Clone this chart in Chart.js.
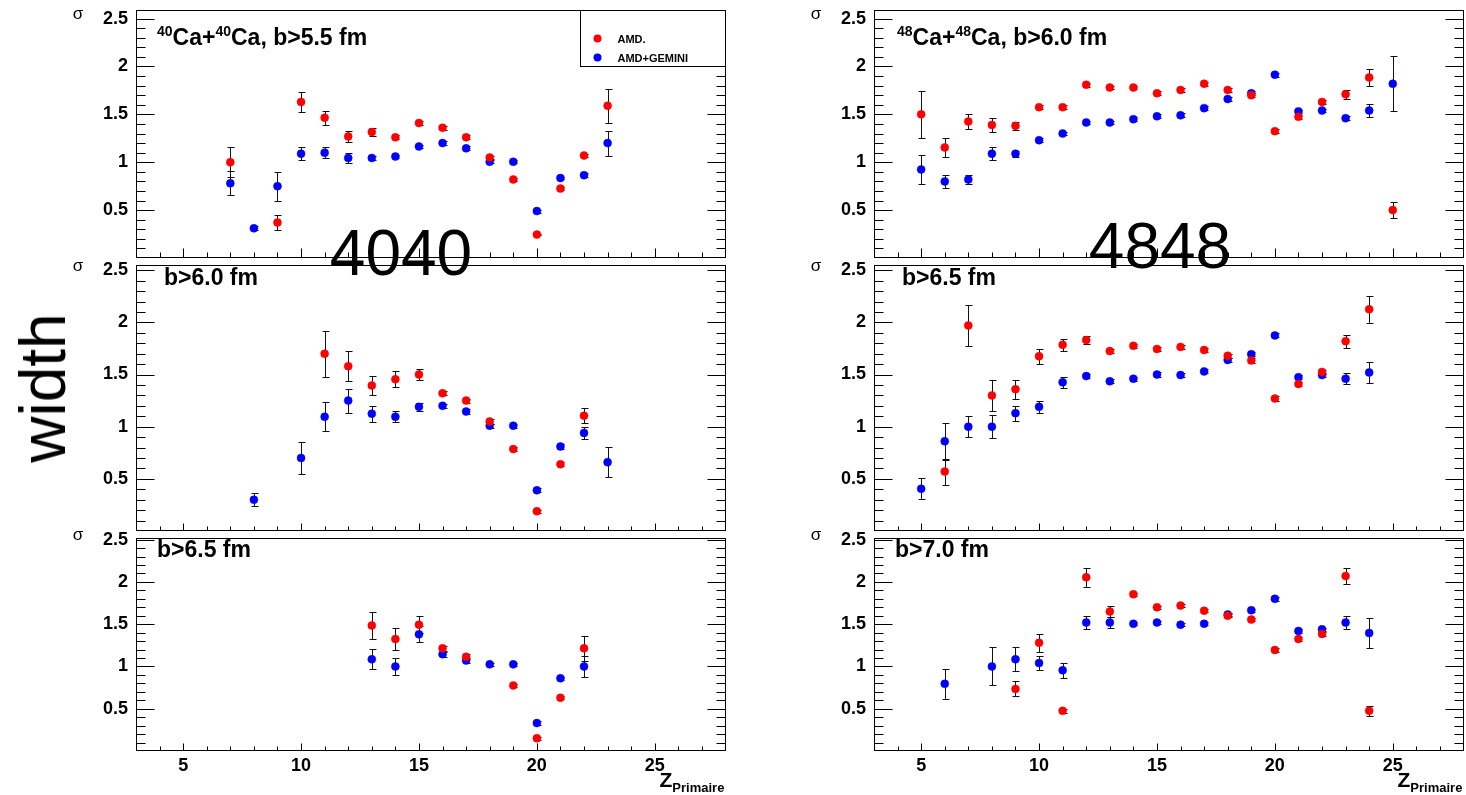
<!DOCTYPE html>
<html><head><meta charset="utf-8">
<script src="https://cdn.jsdelivr.net/npm/chart.js@4.4.1/dist/chart.umd.min.js"></script>
<style>
html,body{margin:0;padding:0;background:#fff;width:1466px;height:795px;overflow:hidden;position:relative;font-family:"Liberation Sans",Arial,sans-serif;}
.panel{position:absolute;}
.big{position:absolute;font-family:"Liberation Sans",Arial,sans-serif;color:#000;white-space:nowrap;z-index:5;line-height:1;font-weight:normal;}
</style></head><body>
<div class="big" style="left:43px;top:388px;font-size:64px;transform:translate(-50%,-50%) rotate(-90deg);">width</div>
<div class="big" style="left:401px;top:221px;font-size:64px;transform:translateX(-50%);">4040</div>
<div class="big" style="left:1160px;top:214px;font-size:64px;transform:translateX(-50%);">4848</div>
<script>
// ---------- axis ranges & tick labels ----------
const zMin = 3, zMax = 28;
const xTickValues = [5, 10, 15, 20, 25];
const yTickValues = [0.5, 1, 1.5, 2, 2.5];
const seriesNames = ['AMD.', 'AMD+GEMINI'];

// ---------- 40Ca+40Ca, b>5.5 fm ----------
const ca40_b55_amdZ   = [7, 9, 10, 11, 12, 13, 14, 15, 16, 17, 18, 19, 20, 21, 22, 23];
const ca40_b55_amdS   = [1.00, 0.37, 1.63, 1.465, 1.27, 1.315, 1.26, 1.41, 1.36, 1.26, 1.05, 0.82, 0.245, 0.725, 1.07, 1.59];
const ca40_b55_amdE   = [0.155, 0.075, 0.105, 0.075, 0.06, 0.04, 0.02, 0.02, 0.02, 0.02, 0.02, 0.015, 0.01, 0.015, 0.02, 0.175];
const ca40_b55_gemZ   = [7, 8, 9, 10, 11, 12, 13, 14, 15, 16, 17, 18, 19, 20, 21, 22, 23];
const ca40_b55_gemS   = [0.78, 0.31, 0.75, 1.09, 1.10, 1.045, 1.045, 1.06, 1.165, 1.20, 1.145, 1.005, 1.005, 0.49, 0.835, 0.865, 1.20];
const ca40_b55_gemE   = [0.125, 0.02, 0.15, 0.07, 0.06, 0.055, 0.02, 0.02, 0.02, 0.02, 0.02, 0.015, 0.015, 0.015, 0.015, 0.02, 0.13];

// ---------- 48Ca+48Ca, b>6.0 fm ----------
const ca48_b60_amdZ   = [5, 6, 7, 8, 9, 10, 11, 12, 13, 14, 15, 16, 17, 18, 19, 20, 21, 22, 23, 24, 25];
const ca48_b60_amdS   = [1.50, 1.155, 1.425, 1.39, 1.38, 1.575, 1.575, 1.81, 1.78, 1.78, 1.72, 1.755, 1.82, 1.755, 1.70, 1.325, 1.475, 1.63, 1.71, 1.885, 0.50];
const ca48_b60_amdE   = [0.245, 0.095, 0.08, 0.073, 0.04, 0.02, 0.02, 0.02, 0.02, 0.02, 0.02, 0.02, 0.02, 0.02, 0.02, 0.02, 0.02, 0.02, 0.045, 0.087, 0.08];
const ca48_b60_gemZ   = [5, 6, 7, 8, 9, 10, 11, 12, 13, 14, 15, 16, 17, 18, 19, 20, 21, 22, 23, 24, 25];
const ca48_b60_gemS   = [0.925, 0.80, 0.82, 1.09, 1.09, 1.23, 1.30, 1.415, 1.415, 1.45, 1.48, 1.49, 1.565, 1.66, 1.72, 1.915, 1.53, 1.54, 1.46, 1.54, 1.82];
const ca48_b60_gemE   = [0.15, 0.07, 0.05, 0.065, 0.03, 0.02, 0.02, 0.02, 0.02, 0.02, 0.02, 0.02, 0.02, 0.02, 0.02, 0.02, 0.02, 0.02, 0.02, 0.07, 0.29];

// ---------- 40Ca+40Ca, b>6.0 fm ----------
const ca40_b60_amdZ   = [11, 12, 13, 14, 15, 16, 17, 18, 19, 20, 21, 22];
const ca40_b60_amdS   = [1.70, 1.58, 1.395, 1.455, 1.50, 1.32, 1.25, 1.05, 0.785, 0.19, 0.64, 1.105];
const ca40_b60_amdE   = [0.22, 0.145, 0.09, 0.075, 0.055, 0.02, 0.02, 0.02, 0.02, 0.015, 0.02, 0.072];
const ca40_b60_gemZ   = [8, 10, 11, 12, 13, 14, 15, 16, 17, 18, 19, 20, 21, 22, 23];
const ca40_b60_gemS   = [0.30, 0.70, 1.095, 1.25, 1.125, 1.095, 1.19, 1.20, 1.145, 1.01, 1.01, 0.39, 0.81, 0.94, 0.66];
const ca40_b60_gemE   = [0.06, 0.155, 0.14, 0.115, 0.077, 0.053, 0.035, 0.02, 0.02, 0.02, 0.02, 0.02, 0.02, 0.055, 0.145];

// ---------- 48Ca+48Ca, b>6.5 fm ----------
const ca48_b65_amdZ   = [6, 7, 8, 9, 10, 11, 12, 13, 14, 15, 16, 17, 18, 19, 20, 21, 22, 23, 24];
const ca48_b65_amdS   = [0.57, 1.97, 1.30, 1.36, 1.675, 1.785, 1.83, 1.725, 1.775, 1.745, 1.765, 1.735, 1.68, 1.635, 1.27, 1.41, 1.525, 1.82, 2.125];
const ca48_b65_amdE   = [0.125, 0.2, 0.145, 0.09, 0.073, 0.06, 0.04, 0.02, 0.02, 0.02, 0.02, 0.02, 0.02, 0.02, 0.02, 0.02, 0.02, 0.063, 0.13];
const ca48_b65_gemZ   = [5, 6, 7, 8, 9, 10, 11, 12, 13, 14, 15, 16, 17, 18, 19, 20, 21, 22, 23, 24];
const ca48_b65_gemS   = [0.405, 0.86, 1.0, 1.0, 1.13, 1.19, 1.425, 1.485, 1.435, 1.46, 1.50, 1.495, 1.53, 1.64, 1.695, 1.875, 1.475, 1.495, 1.46, 1.52];
const ca48_b65_gemE   = [0.1, 0.18, 0.1, 0.11, 0.072, 0.055, 0.05, 0.02, 0.02, 0.02, 0.02, 0.02, 0.02, 0.02, 0.02, 0.02, 0.02, 0.02, 0.05, 0.097];

// ---------- 40Ca+40Ca, b>6.5 fm ----------
const ca40_b65_amdZ   = [13, 14, 15, 16, 17, 19, 20, 21, 22];
const ca40_b65_amdS   = [1.485, 1.325, 1.495, 1.215, 1.115, 0.775, 0.15, 0.63, 1.215];
const ca40_b65_amdE   = [0.16, 0.13, 0.1, 0.03, 0.03, 0.02, 0.02, 0.02, 0.15];
const ca40_b65_gemZ   = [13, 14, 15, 16, 17, 18, 19, 20, 21, 22];
const ca40_b65_gemS   = [1.085, 1.0, 1.38, 1.145, 1.07, 1.025, 1.025, 0.33, 0.86, 1.0];
const ca40_b65_gemE   = [0.117, 0.097, 0.095, 0.03, 0.03, 0.02, 0.02, 0.02, 0.02, 0.12];

// ---------- 48Ca+48Ca, b>7.0 fm ----------
const ca48_b70_amdZ   = [9, 10, 11, 12, 13, 14, 15, 16, 17, 18, 19, 20, 21, 22, 23, 24];
const ca48_b70_amdS   = [0.735, 1.28, 0.475, 2.055, 1.65, 1.855, 1.70, 1.72, 1.66, 1.60, 1.555, 1.195, 1.325, 1.385, 2.07, 0.475];
const ca48_b70_amdE   = [0.09, 0.11, 0.02, 0.11, 0.07, 0.02, 0.02, 0.02, 0.02, 0.02, 0.02, 0.02, 0.02, 0.02, 0.1, 0.06];
const ca48_b70_gemZ   = [6, 8, 9, 10, 11, 12, 13, 14, 15, 16, 17, 18, 19, 20, 21, 22, 23, 24];
const ca48_b70_gemS   = [0.795, 1.0, 1.085, 1.04, 0.955, 1.52, 1.52, 1.505, 1.52, 1.495, 1.505, 1.615, 1.665, 1.80, 1.42, 1.44, 1.52, 1.395];
const ca48_b70_gemE   = [0.18, 0.225, 0.14, 0.085, 0.087, 0.08, 0.065, 0.02, 0.02, 0.02, 0.02, 0.02, 0.02, 0.02, 0.02, 0.02, 0.08, 0.18];

// ---------- titles ----------
const title_ca40_b55 = [{t:'40', sup:true}, {t:'Ca+'}, {t:'40', sup:true}, {t:'Ca, b>5.5 fm'}];
const title_ca48_b60 = [{t:'48', sup:true}, {t:'Ca+'}, {t:'48', sup:true}, {t:'Ca, b>6.0 fm'}];
const title_ca40_b60 = [{t:'b>6.0 fm'}];
const title_ca48_b65 = [{t:'b>6.5 fm'}];
const title_ca40_b65 = [{t:'b>6.5 fm'}];
const title_ca48_b70 = [{t:'b>7.0 fm'}];

// ================= drawing =================
const FONT = '"Liberation Sans", Arial, Helvetica, sans-serif';
const RED = '#ff0000', BLUE = '#0000ff';

const rootStyle = {
  id: 'rootStyle',
  beforeDatasetsDraw(chart) {
    const {ctx, scales: {x, y}} = chart;
    ctx.save();
    ctx.strokeStyle = '#111';
    ctx.lineWidth = 1;
    chart.data.datasets.forEach(ds => {
      ds.data.forEach((p, i) => {
        const e = ds.errors[i];
        if (!e) return;
        const px = Math.round(x.getPixelForValue(p.x)) + 0.5;
        const y1 = Math.round(y.getPixelForValue(p.y - e)) + 0.5;
        const y2 = Math.round(y.getPixelForValue(p.y + e)) + 0.5;
        ctx.beginPath();
        ctx.moveTo(px, y1); ctx.lineTo(px, y2);
        ctx.moveTo(px - 3, y1); ctx.lineTo(px + 4, y1);
        ctx.moveTo(px - 3, y2); ctx.lineTo(px + 4, y2);
        ctx.stroke();
      });
    });
    ctx.restore();
  },
  afterDatasetsDraw(chart, args, o) {
    const {ctx, chartArea: a, scales: {x, y}} = chart;
    ctx.save();
    ctx.strokeStyle = '#000';
    ctx.lineWidth = 1;
    const L = Math.round(a.left) + 0.5, R = Math.round(a.right) - 0.5;
    const T = Math.round(a.top) + 0.5, B = Math.round(a.bottom) - 0.5;
    ctx.strokeRect(L, T, R - L, B - T);
    ctx.beginPath();
    for (let k = Math.ceil(y.min * 10 - 1e-6); k <= Math.floor(y.max * 10 + 1e-6); k++) {
      const py = Math.round(y.getPixelForValue(k / 10)) + 0.5;
      if (py <= T + 1 || py >= B - 1) continue;
      const len = (k % 5 === 0) ? 18 : 9;
      ctx.moveTo(L, py); ctx.lineTo(L + len, py);
      ctx.moveTo(R, py); ctx.lineTo(R - len, py);
    }
    for (let z = zMin + 1; z < zMax; z++) {
      const px = Math.round(x.getPixelForValue(z)) + 0.5;
      const len = (z % 5 === 0) ? o.xMajor : o.xMinor;
      ctx.moveTo(px, B); ctx.lineTo(px, B - len);
    }
    ctx.stroke();

    // title
    ctx.fillStyle = '#000';
    ctx.textBaseline = 'alphabetic';
    ctx.textAlign = 'left';
    let tx = a.left + o.titleDx;
    const ty = a.top + o.titleDy;
    o.title.forEach(seg => {
      ctx.font = seg.sup ? 'bold 14px ' + FONT : 'bold 23px ' + FONT;
      ctx.fillText(seg.t, tx, seg.sup ? ty - 9 : ty);
      tx += ctx.measureText(seg.t).width;
    });

    // sigma (y title)
    ctx.font = '17px ' + FONT;
    ctx.textAlign = 'center';
    ctx.textBaseline = 'middle';
    ctx.fillText('σ', a.left - 58, y.getPixelForValue(2.5) - 4);

    // x title
    if (o.xTitle) {
      ctx.textAlign = 'left';
      ctx.textBaseline = 'alphabetic';
      ctx.font = 'bold 21px ' + FONT;
      const zx = a.right - 66;
      ctx.fillText('Z', zx, a.bottom + 36);
      const w = ctx.measureText('Z').width;
      ctx.font = 'bold 13px ' + FONT;
      ctx.fillText('Primaire', zx + w, a.bottom + 41);
    }

    // legend
    if (o.legend) {
      const bx = Math.round(a.right - 146) + 0.5, by = T, bh = 56;
      ctx.fillStyle = '#fff';
      ctx.fillRect(bx, by, R - bx, bh);
      ctx.strokeStyle = '#000';
      ctx.strokeRect(bx, by, R - bx, bh);
      chart.data.datasets.forEach((ds, i) => {
        const cy = by + 28 + i * 19;
        ctx.fillStyle = ds.backgroundColor;
        ctx.beginPath();
        ctx.arc(bx + 17, cy, 4, 0, Math.PI * 2);
        ctx.fill();
        ctx.fillStyle = '#000';
        ctx.font = 'bold 11px ' + FONT;
        ctx.textAlign = 'left';
        ctx.textBaseline = 'middle';
        ctx.fillText(ds.label, bx + 37, cy + 1);
      });
    }
    ctx.restore();
  }
};

const cols = {
  left:  {l: 136, r: 726},
  right: {l: 874, r: 1464}
};
const rows = {
  top: {t: 10,  b: 258, ymin: 0, ymax: 2.59, xMajor: 9, xMinor: 5, showX: false},
  mid: {t: 265, b: 531, ymin: 0, ymax: 2.55, xMajor: 7, xMinor: 4, showX: false},
  bot: {t: 538, b: 751, ymin: 0, ymax: 2.52, xMajor: 7, xMinor: 4, showX: true}
};

function pts(z, s) { return z.map((v, i) => ({x: v, y: s[i]})); }

function makePanel(col, row, title, titleDx, titleDy, amdZ, amdS, amdE, gemZ, gemS, gemE, legend) {
  const padL = 90, padT = 26, padR = 4;
  const padB = row.showX ? 44 : 26;
  const W = (col.r - col.l) + padL + padR;
  const H = (row.b - row.t) + padT + padB;
  const div = document.createElement('div');
  div.className = 'panel';
  div.style.left = (col.l - padL) + 'px';
  div.style.top = (row.t - padT) + 'px';
  div.style.width = W + 'px';
  div.style.height = H + 'px';
  const cv = document.createElement('canvas');
  cv.width = W; cv.height = H;
  cv.style.width = W + 'px'; cv.style.height = H + 'px';
  div.appendChild(cv);
  document.body.appendChild(div);
  const tickFont = {family: FONT, size: 18, weight: 'bold'};
  new Chart(cv.getContext('2d'), {
    type: 'scatter',
    data: {
      datasets: [
        {label: seriesNames[0], data: pts(amdZ, amdS), errors: amdE,
         backgroundColor: RED, borderColor: RED, borderWidth: 0.5, pointRadius: 4, pointHoverRadius: 4},
        {label: seriesNames[1], data: pts(gemZ, gemS), errors: gemE,
         backgroundColor: BLUE, borderColor: BLUE, borderWidth: 0.5, pointRadius: 4, pointHoverRadius: 4}
      ]
    },
    options: {
      responsive: false, animation: false, devicePixelRatio: 1, events: [],
      layout: {padding: {left: 0, top: padT, right: padR, bottom: row.showX ? 0 : padB}},
      plugins: {
        legend: {display: false}, tooltip: {enabled: false},
        rootStyle: {title: title, titleDx: titleDx, titleDy: titleDy, legend: legend,
                    xMajor: row.xMajor, xMinor: row.xMinor, xTitle: row.showX}
      },
      scales: {
        x: {
          type: 'linear', min: zMin, max: zMax, display: row.showX,
          afterBuildTicks: s => { s.ticks = xTickValues.map(v => ({value: v})); },
          afterFit: s => { s.height = row.showX ? padB : 0; },
          grid: {display: false, drawTicks: false}, border: {display: false},
          ticks: {font: tickFont, color: '#000', padding: 4, maxRotation: 0, autoSkip: false, callback: v => String(v)}
        },
        y: {
          type: 'linear', min: row.ymin, max: row.ymax,
          afterBuildTicks: s => { s.ticks = yTickValues.map(v => ({value: v})); },
          afterFit: s => { s.width = padL; },
          grid: {display: false, drawTicks: false}, border: {display: false},
          ticks: {font: tickFont, color: '#000', padding: 8, autoSkip: false, callback: v => String(v)}
        }
      }
    },
    plugins: [rootStyle]
  });
}

makePanel(cols.left,  rows.top, title_ca40_b55, 21, 35, ca40_b55_amdZ, ca40_b55_amdS, ca40_b55_amdE, ca40_b55_gemZ, ca40_b55_gemS, ca40_b55_gemE, true);
makePanel(cols.right, rows.top, title_ca48_b60, 23, 35, ca48_b60_amdZ, ca48_b60_amdS, ca48_b60_amdE, ca48_b60_gemZ, ca48_b60_gemS, ca48_b60_gemE, false);
makePanel(cols.left,  rows.mid, title_ca40_b60, 28, 20, ca40_b60_amdZ, ca40_b60_amdS, ca40_b60_amdE, ca40_b60_gemZ, ca40_b60_gemS, ca40_b60_gemE, false);
makePanel(cols.right, rows.mid, title_ca48_b65, 28, 20, ca48_b65_amdZ, ca48_b65_amdS, ca48_b65_amdE, ca48_b65_gemZ, ca48_b65_gemS, ca48_b65_gemE, false);
makePanel(cols.left,  rows.bot, title_ca40_b65, 21, 19, ca40_b65_amdZ, ca40_b65_amdS, ca40_b65_amdE, ca40_b65_gemZ, ca40_b65_gemS, ca40_b65_gemE, false);
makePanel(cols.right, rows.bot, title_ca48_b70, 21, 19, ca48_b70_amdZ, ca48_b70_amdS, ca48_b70_amdE, ca48_b70_gemZ, ca48_b70_gemS, ca48_b70_gemE, false);
</script>
</body></html>
